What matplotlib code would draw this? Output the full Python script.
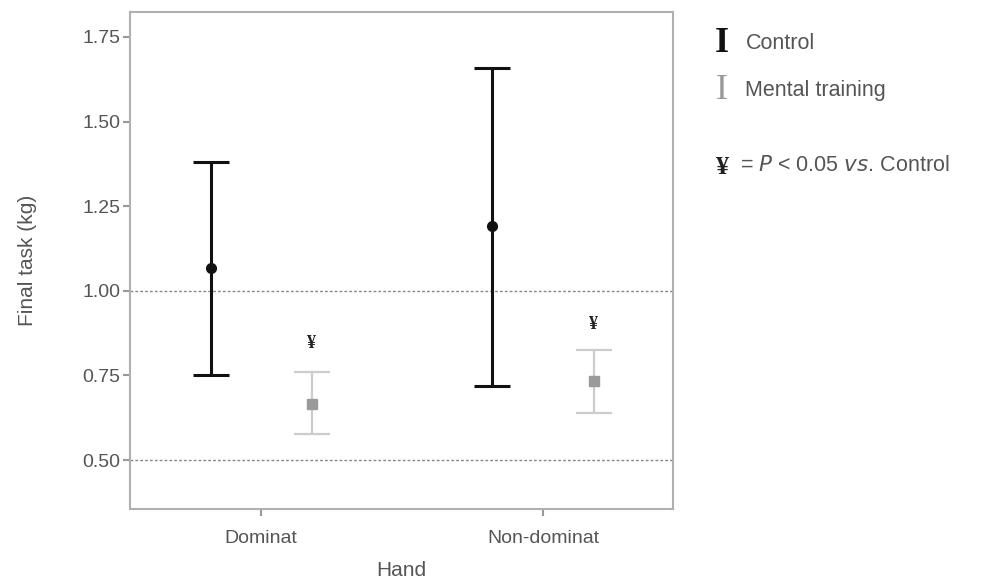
import numpy as np
import matplotlib.pyplot as plt

plt.rcParams['font.family'] = ['Liberation Sans', 'DejaVu Sans']

# data
hands = ['Dominat', 'Non-dominat']
control_mean = [1.068, 1.19]
control_low = [0.75, 0.72]
control_high = [1.38, 1.657]
mental_mean = [0.667, 0.733]
mental_low = [0.577, 0.64]
mental_high = [0.76, 0.826]
star_y = [0.843, 0.90]

x = np.arange(len(hands))
off = 0.18

fig = plt.figure(figsize=(9.86, 5.78), dpi=100)
ax = fig.add_axes([0.132, 0.119, 0.551, 0.860])

# reference lines
for yv in [1.0, 0.5]:
    ax.axhline(yv, color='#888888', lw=1.0, ls=(0, (2, 1.5)), zorder=1)

cm = np.array(control_mean)
ax.errorbar(x - off, cm, yerr=[cm - np.array(control_low), np.array(control_high) - cm],
            fmt='o', color='#111111', ms=7, elinewidth=2.2, capsize=13, capthick=2.2, zorder=3)
mm = np.array(mental_mean)
ax.errorbar(x + off, mm, yerr=[mm - np.array(mental_low), np.array(mental_high) - mm],
            fmt='none', ecolor='#cccccc', elinewidth=1.6, capsize=13, capthick=1.6, zorder=2)
ax.plot(x + off, mm, 's', color='#9a9a9a', ms=7.5, zorder=3)

for xi, yi in zip(x + off, star_y):
    ax.text(xi, yi, '¥', ha='center', va='center', fontsize=13, fontweight='bold',
            family='Liberation Serif', color='#222222')

ax.set_xlim(-0.465, 1.462)
ax.set_ylim(0.355, 1.823)
ax.set_xticks(x)
ax.set_xticklabels(hands)
ax.set_yticks([0.5, 0.75, 1.0, 1.25, 1.5, 1.75])
ax.set_yticklabels(['0.50', '0.75', '1.00', '1.25', '1.50', '1.75'])
ax.tick_params(axis='both', colors='#999999', labelcolor='#555555', labelsize=14,
               length=5, width=1.5)
ax.tick_params(axis='x', pad=10)
ax.tick_params(axis='y', pad=2)
for sp in ax.spines.values():
    sp.set_color('#b0b0b0')
    sp.set_linewidth(1.5)

ax.set_xlabel('Hand', fontsize=15, color='#555555', labelpad=10)
ax.set_ylabel('Final task (kg)', fontsize=15, color='#555555', labelpad=33)

# legend drawn by hand
fig.text(0.732, 0.924, 'I', fontsize=26, family='Liberation Serif', fontweight='bold',
         color='#111111', ha='center', va='center')
fig.text(0.756, 0.924, 'Control', fontsize=15.5, color='#555555', va='center')
fig.text(0.732, 0.844, 'I', fontsize=26, family='Liberation Serif',
         color='#999999', ha='center', va='center')
fig.text(0.756, 0.844, 'Mental training', fontsize=15.5, color='#555555', va='center')
fig.text(0.733, 0.710, '¥', fontsize=19, family='Liberation Serif', fontweight='bold',
         color='#222222', ha='center', va='center')
fig.text(0.750, 0.713, '= $\\mathit{P}$ < 0.05 $\\mathit{vs}$. Control', fontsize=15.5,
         color='#555555', va='center')

plt.savefig('out.png', dpi=100)
